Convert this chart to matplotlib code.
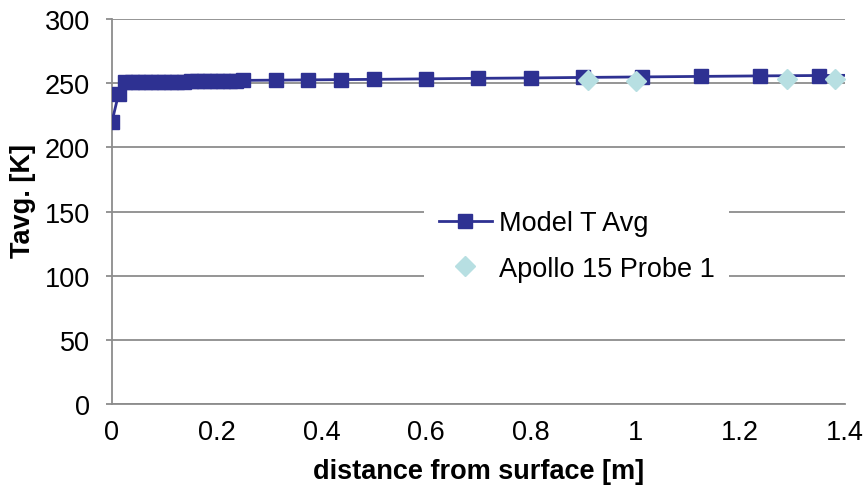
import matplotlib
matplotlib.use('Agg')
import matplotlib.pyplot as plt

plt.rcParams['font.family'] = ['Liberation Sans', 'DejaVu Sans']

# --- データ -------------------------------------------------------------
model_x = [0.0, 0.0125, 0.025, 0.0375, 0.05, 0.0625, 0.075, 0.0875, 0.1,
           0.1125, 0.125, 0.1375, 0.15, 0.1625, 0.175, 0.1875, 0.2, 0.2125,
           0.225, 0.2375, 0.25, 0.3125, 0.375, 0.4375, 0.5, 0.6, 0.7, 0.8,
           0.9, 1.0125, 1.125, 1.2375, 1.35, 1.4625]
model_t = [220.0, 241.5, 251.0, 251.0, 250.9, 250.9, 250.9, 251.0, 251.0,
           251.1, 251.2, 251.3, 251.4, 251.5, 251.6, 251.7, 251.8, 251.9,
           252.0, 252.1, 252.2, 252.4, 252.6, 252.8, 253.0, 253.4, 253.8, 254.1,
           254.5, 254.9, 255.3, 255.7, 256.0, 256.3]

apollo_x = [0.91, 1.0, 1.29, 1.38]
apollo_t = [252.3, 252.0, 253.0, 253.2]

x_ticks = [0, 0.2, 0.4, 0.6, 0.8, 1, 1.2, 1.4]
x_tick_labels = ['0', '0.2', '0.4', '0.6', '0.8', '1', '1.2', '1.4']
y_ticks = [0, 50, 100, 150, 200, 250, 300]

navy = '#2E3192'
light = '#B7DFE2'
grey = '#8C8C8C'
fs = 19.5

fig = plt.figure(figsize=(8.64, 4.89), dpi=100)
ax = fig.add_axes([0.1296, 0.1718, 0.8484, 0.7872])

ax.plot(model_x, model_t, color=navy, lw=2, marker='s', ms=10.5,
        mfc=navy, mec=navy, label='Model T Avg', zorder=3)
ax.plot(apollo_x, apollo_t, ls='none', marker='D', ms=10,
        mfc=light, mec=light, label='Apollo 15 Probe 1', zorder=4)

ax.set_xlim(0, 1.4)
ax.set_ylim(0, 300)
ax.set_xticks(x_ticks)
ax.set_xticklabels(x_tick_labels)
ax.set_yticks(y_ticks)
ax.grid(axis='y', color=grey, lw=1.3)
ax.set_axisbelow(True)

for s in ['top', 'right']:
    ax.spines[s].set_visible(False)
for s in ['left', 'bottom']:
    ax.spines[s].set_color(grey)
    ax.spines[s].set_linewidth(1.3)

ax.tick_params(axis='y', length=4, color=grey, width=1.3, labelsize=fs, pad=12)
ax.tick_params(axis='x', length=0, labelsize=fs, pad=11)

ax.set_xlabel('distance from surface [m]', fontsize=fs, fontweight='bold')
ax.set_ylabel('Tavg. [K]', fontsize=fs, fontweight='bold')
ax.xaxis.set_label_coords(0.5, -0.14)
ax.yaxis.set_label_coords(-0.104, 0.53)

leg = ax.legend(loc='center', bbox_to_anchor=(0.634, 0.41), frameon=True,
                fontsize=fs, handlelength=1.95, labelspacing=0.72,
                borderpad=0.55, handletextpad=0.25, borderaxespad=0)
leg.get_frame().set_edgecolor('none')
leg.get_frame().set_facecolor('white')
leg.get_frame().set_alpha(1)
leg.get_frame().set_boxstyle('square', pad=0)

fig.savefig('out.png', dpi=100)
